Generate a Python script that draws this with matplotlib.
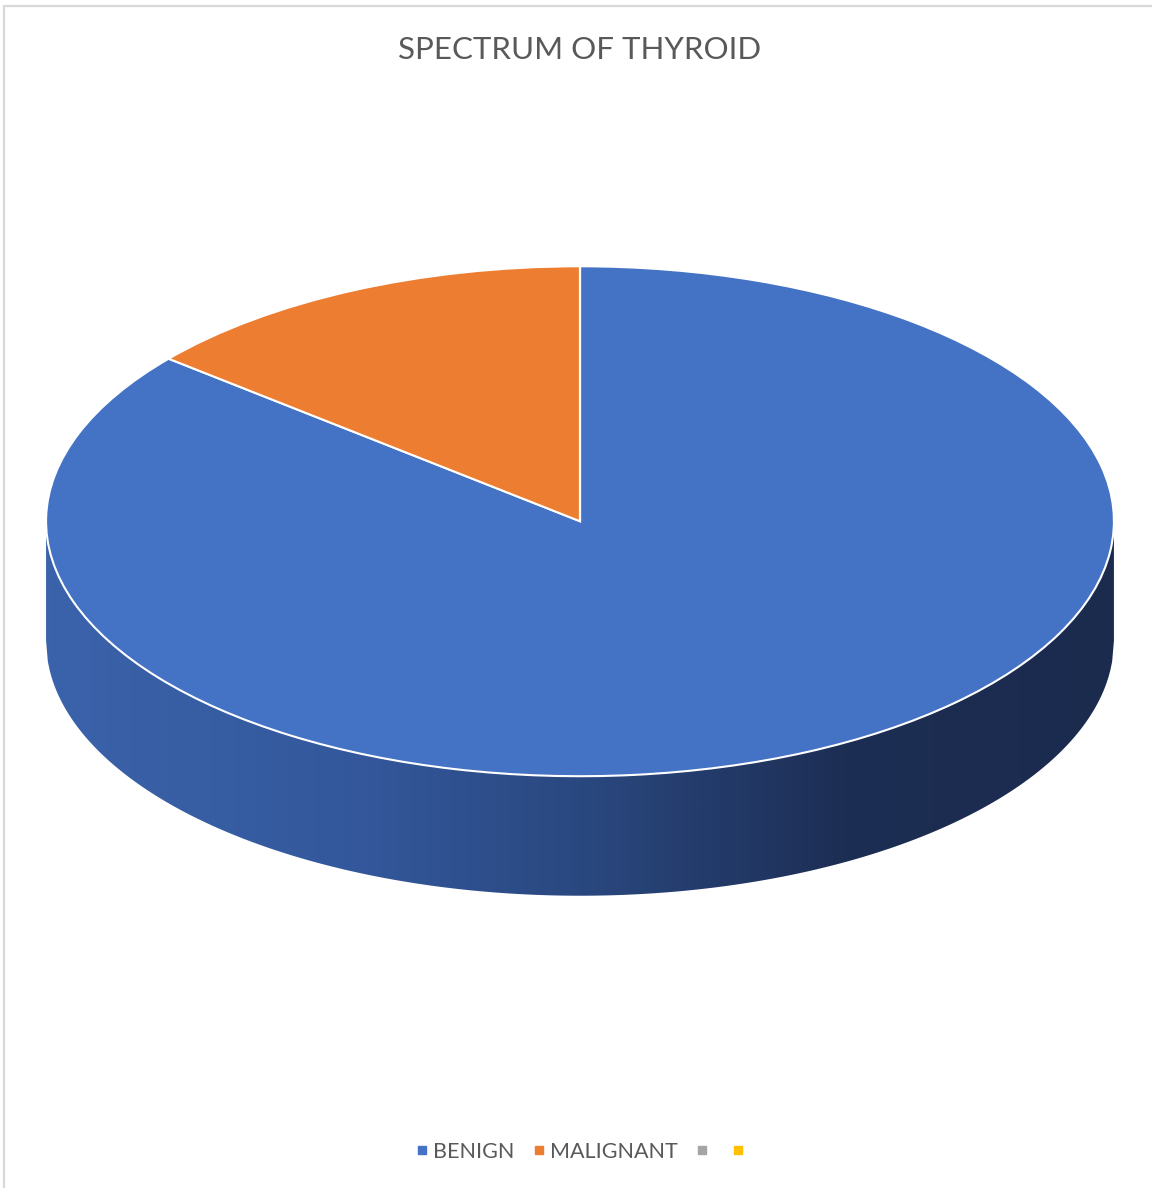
import numpy as np
import matplotlib.pyplot as plt
from matplotlib.colors import LinearSegmentedColormap
from matplotlib.lines import Line2D
from matplotlib.patches import Rectangle

plt.rcParams['font.family'] = ['Lato', 'DejaVu Sans']

# data
categories = ["BENIGN", "MALIGNANT", "", ""]
values = [86, 14, 0, 0]
colors = ["#4472C4", "#ED7D31", "#A5A5A5", "#FFC000"]
side_stops = [0.0, 0.3, 0.5, 0.75, 1.0]
side_colors = ["#3B63AB", "#33579A", "#2A4880", "#1D2E54", "#1B2B4E"]

W, H = 1152, 1188
fig = plt.figure(figsize=(W / 100, H / 100), dpi=100)

# light gray frame (only left/top visible in the crop)
fig.add_artist(Rectangle((4 / W, -0.1), 1.2, 1 - 6 / H + 0.1, transform=fig.transFigure,
                         fill=False, edgecolor="#D9D9D9", linewidth=1.6))

# ellipse geometry in pixels
left, right = 45, 1115
top, ell_bottom, side_bottom = 265, 777, 897
ry = (ell_bottom - top) / 2
depth = (side_bottom - ell_bottom) / ry

ax = fig.add_axes([left / W, 1 - side_bottom / H, (right - left) / W, (side_bottom - top) / H])
wedges, _ = ax.pie(values, colors=colors, startangle=90, counterclock=False, radius=1,
                   wedgeprops=dict(edgecolor="white", linewidth=1.5))
for w in wedges:
    w.set_zorder(3)
ax.set_aspect("auto")

# side wall with horizontal gradient
x = np.linspace(-1, 1, 600)
upper = -np.sqrt(1 - x ** 2)
wall = ax.fill_between(x, upper - depth, upper, color="none", linewidth=0, zorder=1)
cmap = LinearSegmentedColormap.from_list("side", list(zip(side_stops, side_colors)))
img = ax.imshow(np.linspace(0, 1, 256)[None, :], cmap=cmap, aspect="auto",
                extent=(-1, 1, -1 - depth, 0), zorder=1, interpolation="bilinear")
img.set_clip_path(wall.get_paths()[0], transform=ax.transData)
ax.set_xlim(-1.002, 1.002)
ax.set_ylim(-1 - depth - 0.005, 1.005)
ax.axis("off")

fig.text(580 / W, 1 - 50 / H, "SPECTRUM OF THYROID", ha="center", va="center",
         fontsize=22.5, color="#595959")

handles = [Line2D([], [], marker="s", linestyle="none", markersize=6,
                  markerfacecolor=c, markeredgecolor=c) for c in colors]
fig.legend(handles, categories, loc="center", bbox_to_anchor=(583 / W, 1 - 1152 / H),
           ncol=4, frameon=False, fontsize=15.5, labelcolor="#595959",
           handlelength=0.4, handletextpad=0.3, columnspacing=0.95)

fig.savefig("out.png", dpi=100)
